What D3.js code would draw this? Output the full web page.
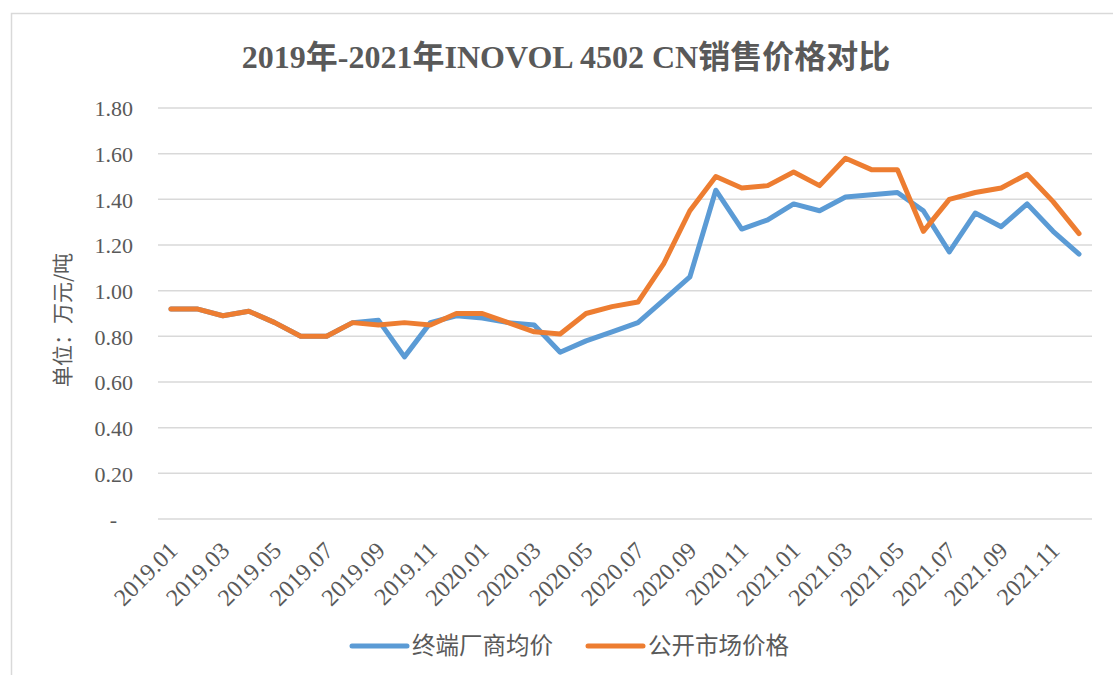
<!DOCTYPE html>
<html>
<head>
<meta charset="utf-8">
<script src="https://cdn.jsdelivr.net/npm/d3@7"></script>
<style>
  body { margin: 0; background: #fff; }
  svg text { fill: #595959; }
</style>
</head>
<body>
<div id="chart"></div>
<script>
// months 2019.01 - 2021.12
var months = [
    "2019.01", "2019.02", "2019.03", "2019.04", "2019.05", "2019.06",
    "2019.07", "2019.08", "2019.09", "2019.10", "2019.11", "2019.12",
    "2020.01", "2020.02", "2020.03", "2020.04", "2020.05", "2020.06",
    "2020.07", "2020.08", "2020.09", "2020.10", "2020.11", "2020.12",
    "2021.01", "2021.02", "2021.03", "2021.04", "2021.05", "2021.06",
    "2021.07", "2021.08", "2021.09", "2021.10", "2021.11", "2021.12"
];

// 终端厂商均价
var terminalPrice = [
    0.92, 0.92, 0.89, 0.91, 0.86, 0.80,
    0.80, 0.86, 0.87, 0.71, 0.86, 0.89,
    0.88, 0.86, 0.85, 0.73, 0.78, 0.82,
    0.86, 0.96, 1.06, 1.44, 1.27, 1.31,
    1.38, 1.35, 1.41, 1.42, 1.43, 1.35,
    1.17, 1.34, 1.28, 1.38, 1.26, 1.16
];

// 公开市场价格
var marketPrice = [
    0.92, 0.92, 0.89, 0.91, 0.86, 0.80,
    0.80, 0.86, 0.85, 0.86, 0.85, 0.90,
    0.90, 0.86, 0.82, 0.81, 0.90, 0.93,
    0.95, 1.12, 1.35, 1.50, 1.45, 1.46,
    1.52, 1.46, 1.58, 1.53, 1.53, 1.26,
    1.40, 1.43, 1.45, 1.51, 1.39, 1.25
];

var seriesNames = ["终端厂商均价", "公开市场价格"];
var yTicks = [0, 0.2, 0.4, 0.6, 0.8, 1.0, 1.2, 1.4, 1.6, 1.8];

var width = 1113;
var height = 675;
var colors = ["#5B9BD5", "#ED7D31"];
var serif = "'Liberation Serif', 'Times New Roman', 'Noto Sans CJK SC', serif";
var cjk = "'Noto Sans CJK SC', 'Liberation Sans', sans-serif";

var margin = { left: 158, right: 1092, top: 108, bottom: 519 };

var svg = d3.select('#chart')
    .append('svg')
    .attr('width', width)
    .attr('height', height);

// chart border
svg.append('rect')
    .attr('x', 11.5)
    .attr('y', 13.5)
    .attr('width', width + 20)
    .attr('height', height + 20)
    .attr('fill', 'none')
    .attr('stroke', '#d9d9d9')
    .attr('stroke-width', 1.5);

var x = d3.scaleBand()
    .domain(months)
    .range([margin.left, margin.right]);

var y = d3.scaleLinear()
    .domain([0, 1.8])
    .range([margin.bottom, margin.top]);

// grid lines
svg.append('g')
    .selectAll('line')
    .data(yTicks)
    .enter()
    .append('line')
    .attr('x1', margin.left)
    .attr('x2', margin.right)
    .attr('y1', function (d) { return y(d); })
    .attr('y2', function (d) { return y(d); })
    .attr('stroke', '#d9d9d9')
    .attr('stroke-width', 1.5);

// y labels
var yAxis = d3.axisLeft(y)
    .tickValues(yTicks)
    .tickSize(0)
    .tickPadding(25)
    .tickFormat(function (d) { return d === 0 ? "-" : d3.format(".2f")(d); });

var yg = svg.append('g')
    .attr('transform', 'translate(' + margin.left + ',0)')
    .call(yAxis)
    .attr('font-family', serif)
    .attr('font-size', 22);
yg.select('.domain').remove();
yg.selectAll('text')
    .attr('dx', function (d) { return d === 0 ? -16 : 0; })
    .attr('dy', '0.35em');

// x labels, every other month
var xLabels = months.filter(function (d, i) { return i % 2 === 0; });
svg.append('g')
    .selectAll('text')
    .data(xLabels)
    .enter()
    .append('text')
    .attr('transform', function (d) {
        var cx = x(d) + x.bandwidth() / 2;
        return 'translate(' + (cx + 8) + ',' + (margin.bottom + 33) + ') rotate(-45)';
    })
    .attr('text-anchor', 'end')
    .attr('font-family', serif)
    .attr('font-size', 24)
    .text(function (d) { return d; });

// lines
var line = d3.line()
    .x(function (d, i) { return x(months[i]) + x.bandwidth() / 2; })
    .y(function (d) { return y(d); });

[terminalPrice, marketPrice].forEach(function (s, i) {
    svg.append('path')
        .datum(s)
        .attr('d', line)
        .attr('fill', 'none')
        .attr('stroke', colors[i])
        .attr('stroke-width', 5)
        .attr('stroke-linejoin', 'round')
        .attr('stroke-linecap', 'round');
});

// title
svg.append('text')
    .attr('x', 566)
    .attr('y', 68)
    .attr('text-anchor', 'middle')
    .attr('font-family', serif)
    .attr('font-size', 32)
    .attr('font-weight', 'bold')
    .text("2019年-2021年INOVOL 4502 CN销售价格对比");

// y axis title
svg.append('text')
    .attr('transform', 'translate(70,320) rotate(-90)')
    .attr('text-anchor', 'middle')
    .attr('font-family', cjk)
    .attr('font-size', 21)
    .text("单位：万元/吨");

// legend
var legendX = [352, 588];
var legend = svg.selectAll('.legend')
    .data(seriesNames)
    .enter()
    .append('g')
    .attr('class', 'legend')
    .attr('transform', function (d, i) {
        return 'translate(' + legendX[i] + ',646)';
    });

legend.append('line')
    .attr('x1', 0)
    .attr('x2', 55)
    .attr('stroke', function (d, i) { return colors[i]; })
    .attr('stroke-width', 5)
    .attr('stroke-linecap', 'round');

legend.append('text')
    .attr('x', 60)
    .attr('dy', '0.36em')
    .attr('font-family', cjk)
    .attr('font-size', 23.5)
    .text(function (d) { return d; });
</script>
</body>
</html>
